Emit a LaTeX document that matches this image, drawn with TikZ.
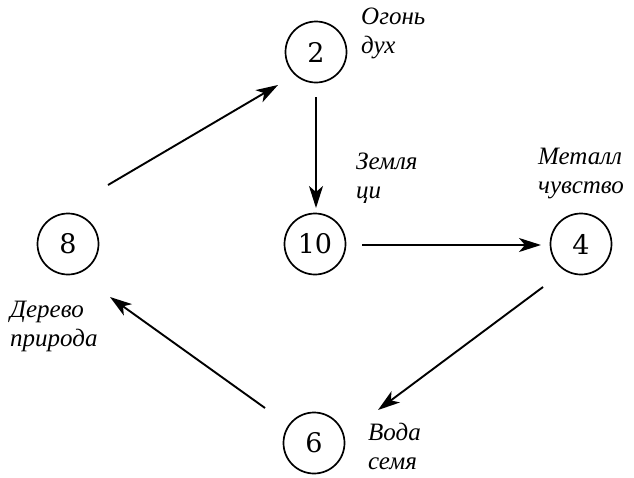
\documentclass[tikz,border=0pt]{standalone}
\usepackage{fontspec}
\setmainfont{Liberation Serif}
\newfontfamily\digitfont{DejaVu Serif}
\usetikzlibrary{arrows.meta}
\begin{document}
\begin{tikzpicture}[x=1pt,y=-1pt,
  num/.style={draw,circle,line width=1.7pt,minimum size=61pt,inner sep=0pt,font=\digitfont\fontsize{27}{27}\selectfont},
  lbl/.style={align=left,anchor=north west,inner sep=0pt,font=\itshape\fontsize{25}{29}\selectfont},
  arr/.style={line width=1.9pt,-{Stealth[length=22pt,width=14pt,inset=6pt]}}]
\useasboundingbox (0,0) rectangle (634,477);
\node[num] (n2) at (316,52) {2};
\node[num] (n10) at (315,244) {10};
\node[num] (n4) at (581,244) {4};
\node[num] (n8) at (68,244) {8};
\node[num] (n6) at (314,443) {6};
\coordinate (a1) at (108,185);
\coordinate (b1) at (278,85);
\coordinate (a2) at (316,97);
\coordinate (b2) at (316,208);
\coordinate (a3) at (362,245);
\coordinate (b3) at (541,245);
\coordinate (a4) at (543,287);
\coordinate (b4) at (378,410);
\coordinate (a5) at (265,408);
\coordinate (b5) at (110,297);
\draw[arr] (a1) -- (b1);
\draw[arr] (a2) -- (b2);
\draw[arr] (a3) -- (b3);
\draw[arr] (a4) -- (b4);
\draw[arr] (a5) -- (b5);
\node[lbl] (l2) at (361,8) {Огонь\\дух};
\node[lbl] (l10) at (356,153) {Земля\\ци};
\node[lbl] (l4) at (538,148) {Металл\\чувство};
\node[lbl] (l8) at (10,301) {Дерево\\природа};
\node[lbl] (l6) at (368,423) {Вода\\семя};
\end{tikzpicture}
\end{document}
